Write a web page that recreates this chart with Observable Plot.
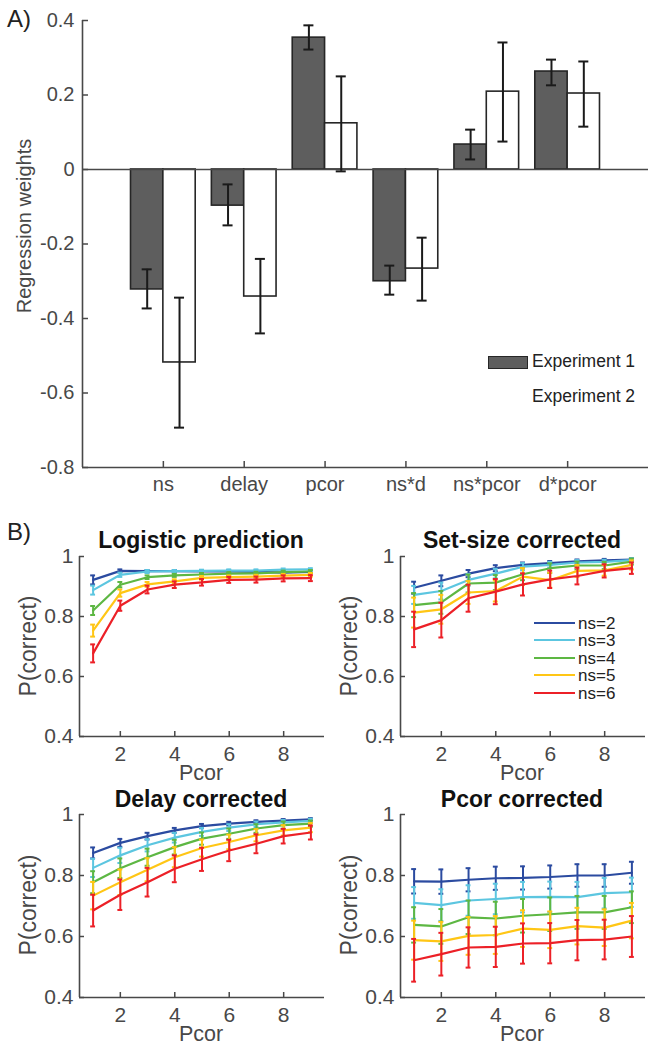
<!DOCTYPE html>
<html><head><meta charset="utf-8">
<script src="https://cdn.jsdelivr.net/npm/d3@7"></script>
<script src="https://cdn.jsdelivr.net/npm/@observablehq/plot@0.6"></script>
<style>
body{margin:0;background:#fff;}
#fig{position:relative;width:656px;height:1050px;overflow:hidden;background:#fff;font-family:"Liberation Sans",Arial,Helvetica,sans-serif;}
#fig svg{overflow:visible;}
.plot{position:absolute;}
.lab{position:absolute;white-space:nowrap;line-height:1;}
</style></head><body><div id="fig"></div>
<script>
// ---------- Panel A data ----------
const terms = ["ns", "delay", "pcor", "ns*d", "ns*pcor", "d*pcor"];
const exp1 = [-0.322, -0.097, 0.354, -0.300, 0.067, 0.263];
const exp1Lo = [-0.373, -0.150, 0.322, -0.336, 0.027, 0.226];
const exp1Hi = [-0.268, -0.040, 0.387, -0.258, 0.107, 0.295];
const exp2 = [-0.518, -0.341, 0.124, -0.266, 0.209, 0.204];
const exp2Lo = [-0.693, -0.440, -0.005, -0.352, 0.075, 0.115];
const exp2Hi = [-0.344, -0.240, 0.250, -0.183, 0.341, 0.290];
const yTicksA = [-0.8, -0.6, -0.4, -0.2, 0, 0.2, 0.4];

// ---------- Panel B data ----------
const pcorVals = [1, 2, 3, 4, 5, 6, 7, 8, 9];
const nsLabels = ["ns=2", "ns=3", "ns=4", "ns=5", "ns=6"];
const nsColors = ["#2b4ba0", "#5cc6e0", "#5db743", "#ffc615", "#ec2027"];
const yTicksB = [0.4, 0.6, 0.8, 1];
const xTicksB = [2, 4, 6, 8];

const logisticVals = [
  [0.922, 0.952, 0.951, 0.951, 0.950, 0.950, 0.949, 0.946, 0.949],
  [0.888, 0.939, 0.950, 0.951, 0.952, 0.953, 0.953, 0.956, 0.957],
  [0.820, 0.906, 0.931, 0.937, 0.940, 0.943, 0.944, 0.948, 0.950],
  [0.753, 0.878, 0.907, 0.917, 0.929, 0.931, 0.933, 0.936, 0.939],
  [0.677, 0.836, 0.890, 0.906, 0.914, 0.922, 0.923, 0.927, 0.928]
];
const logisticErr = [
  [0.015, 0.005, 0.004, 0.004, 0.004, 0.004, 0.004, 0.004, 0.004],
  [0.015, 0.007, 0.005, 0.004, 0.004, 0.004, 0.004, 0.004, 0.004],
  [0.015, 0.009, 0.006, 0.005, 0.005, 0.005, 0.005, 0.005, 0.005],
  [0.020, 0.012, 0.008, 0.007, 0.006, 0.006, 0.006, 0.006, 0.006],
  [0.030, 0.017, 0.013, 0.011, 0.011, 0.010, 0.010, 0.010, 0.010]
];
const setsizeVals = [
  [0.896, 0.919, 0.943, 0.961, 0.972, 0.978, 0.984, 0.987, 0.990],
  [0.872, 0.885, 0.922, 0.943, 0.966, 0.972, 0.980, 0.982, 0.988],
  [0.838, 0.847, 0.910, 0.913, 0.941, 0.961, 0.970, 0.970, 0.983],
  [0.813, 0.824, 0.880, 0.885, 0.933, 0.921, 0.952, 0.954, 0.972],
  [0.757, 0.788, 0.861, 0.883, 0.907, 0.924, 0.935, 0.952, 0.961]
];
const setsizeErr = [
  [0.020, 0.018, 0.012, 0.010, 0.008, 0.007, 0.006, 0.005, 0.004],
  [0.030, 0.028, 0.020, 0.016, 0.012, 0.010, 0.008, 0.007, 0.006],
  [0.040, 0.038, 0.030, 0.025, 0.020, 0.016, 0.013, 0.012, 0.010],
  [0.050, 0.048, 0.038, 0.035, 0.028, 0.025, 0.020, 0.018, 0.015],
  [0.059, 0.058, 0.045, 0.042, 0.037, 0.029, 0.028, 0.022, 0.019]
];
const delayVals = [
  [0.874, 0.907, 0.929, 0.948, 0.962, 0.970, 0.976, 0.980, 0.984],
  [0.825, 0.866, 0.899, 0.924, 0.943, 0.957, 0.968, 0.974, 0.979],
  [0.778, 0.824, 0.860, 0.893, 0.921, 0.937, 0.954, 0.965, 0.970],
  [0.734, 0.778, 0.819, 0.860, 0.890, 0.910, 0.932, 0.948, 0.957],
  [0.685, 0.737, 0.778, 0.822, 0.853, 0.882, 0.904, 0.929, 0.941]
];
const delayErr = [
  [0.018, 0.013, 0.011, 0.008, 0.007, 0.006, 0.005, 0.005, 0.004],
  [0.030, 0.025, 0.020, 0.016, 0.013, 0.011, 0.009, 0.008, 0.007],
  [0.036, 0.032, 0.028, 0.024, 0.020, 0.017, 0.014, 0.012, 0.010],
  [0.045, 0.042, 0.038, 0.033, 0.028, 0.024, 0.020, 0.017, 0.015],
  [0.052, 0.050, 0.047, 0.044, 0.038, 0.035, 0.031, 0.024, 0.023]
];
const pcorCorrVals = [
  [0.781, 0.780, 0.786, 0.791, 0.792, 0.795, 0.800, 0.800, 0.809],
  [0.710, 0.703, 0.718, 0.723, 0.729, 0.730, 0.729, 0.742, 0.745],
  [0.638, 0.633, 0.663, 0.659, 0.668, 0.673, 0.679, 0.679, 0.696],
  [0.588, 0.584, 0.602, 0.605, 0.626, 0.622, 0.634, 0.629, 0.652],
  [0.522, 0.542, 0.564, 0.566, 0.577, 0.578, 0.588, 0.590, 0.600]
];
const pcorCorrErr = [
  [0.040, 0.040, 0.038, 0.038, 0.038, 0.038, 0.037, 0.037, 0.036],
  [0.052, 0.052, 0.050, 0.050, 0.050, 0.050, 0.050, 0.050, 0.048],
  [0.058, 0.057, 0.055, 0.055, 0.055, 0.055, 0.054, 0.054, 0.052],
  [0.064, 0.064, 0.062, 0.062, 0.060, 0.060, 0.060, 0.060, 0.058],
  [0.070, 0.070, 0.066, 0.066, 0.066, 0.066, 0.066, 0.065, 0.067]
];

// ---------- styling ----------
const FONT = '"Liberation Sans", Arial, Helvetica, sans-serif';
const AX = "#484848";
const fig = document.getElementById("fig");

function place(node, left, top) {
  node.classList.add("plot");
  node.style.left = left + "px";
  node.style.top = top + "px";
  fig.appendChild(node);
}
function label(text, cx, cy, {size = 20, weight = "normal", rotate = 0, align = "center", color = AX} = {}) {
  const d = document.createElement("div");
  d.className = "lab";
  d.textContent = text;
  d.style.fontSize = size + "px";
  d.style.fontWeight = weight;
  d.style.color = color;
  d.style.left = cx + "px";
  d.style.top = cy + "px";
  if (rotate) {
    d.style.transformOrigin = "0 0";
    d.style.transform = `rotate(${rotate}deg) translate(-50%,-50%)`;
  } else {
    const tx = align === "center" ? "-50%" : "0";
    d.style.transform = `translate(${tx},-50%)`;
  }
  fig.appendChild(d);
  return d;
}

// ---------- Panel A ----------
const barRows = terms.flatMap((t, i) => [
  {term: t, exp: "Experiment 1", pos: i + 1, off: -0.2, v: exp1[i], lo: exp1Lo[i], hi: exp1Hi[i]},
  {term: t, exp: "Experiment 2", pos: i + 1, off: 0.2, v: exp2[i], lo: exp2Lo[i], hi: exp2Hi[i]}
]);
const BW = 0.4, CAP_A = 0.062;
const fmtA = d => d === 0 ? "0" : d.toFixed(1);

const pa = Plot.plot({
  width: 656, height: 500,
  marginLeft: 82, marginRight: 8, marginTop: 20, marginBottom: 33,
  style: {fontFamily: FONT, fontSize: "20px", color: AX, background: "transparent", overflow: "visible"},
  x: {type: "linear", domain: [0, 7]},
  y: {domain: [-0.8, 0.4]},
  marks: [
    Plot.rect(barRows, {
      x1: d => d.pos + d.off - BW / 2, x2: d => d.pos + d.off + BW / 2,
      y1: 0, y2: "v",
      fill: d => d.exp === "Experiment 1" ? "#5e5e5e" : "#ffffff",
      stroke: "#262626", strokeWidth: 1.6
    }),
    Plot.ruleY([0], {stroke: AX, strokeWidth: 1.5}),
    Plot.ruleX(barRows, {x: d => d.pos + d.off, y1: "lo", y2: "hi", stroke: "#1a1a1a", strokeWidth: 2}),
    Plot.ruleY(barRows, {y: "hi", x1: d => d.pos + d.off - CAP_A, x2: d => d.pos + d.off + CAP_A, stroke: "#1a1a1a", strokeWidth: 2}),
    Plot.ruleY(barRows, {y: "lo", x1: d => d.pos + d.off - CAP_A, x2: d => d.pos + d.off + CAP_A, stroke: "#1a1a1a", strokeWidth: 2}),
    Plot.ruleX([0], {stroke: AX, strokeWidth: 1.6}),
    Plot.ruleY([-0.8], {stroke: AX, strokeWidth: 1.6}),
    Plot.axisY({ticks: yTicksA, tickFormat: fmtA, tickSize: -6, tickPadding: 14, label: null, strokeWidth: 1.5}),
    Plot.axisX({ticks: [1, 2, 3, 4, 5, 6], tickFormat: d => terms[d - 1], tickSize: -6, tickPadding: 15, label: null, strokeWidth: 1.5})
  ]
});
place(pa, 0, 0);

label("A)", 7, 19, {size: 24, align: "left", color: "#222"});
label("Regression weights", 24, 226, {size: 20, rotate: -90});

// legend A
const sw = document.createElement("div");
sw.style.cssText = "position:absolute;left:488px;top:356px;width:40px;height:13px;background:#5e5e5e;border:1.5px solid #262626;box-sizing:border-box;";
fig.appendChild(sw);
label("Experiment 1", 532, 362, {size: 17.5, align: "left", color: "#222"});
label("Experiment 2", 532, 397, {size: 17.5, align: "left", color: "#222"});

// ---------- Panel B ----------
const CAP_B = 0.09;
const fmtB = d => d === 1 ? "1" : d.toFixed(1);

function linePanel(vals, errs, marginBottom) {
  const marks = [
    Plot.ruleX([0.5], {stroke: AX, strokeWidth: 1.6}),
    Plot.ruleY([0.4], {stroke: AX, strokeWidth: 1.6})
  ];
  nsLabels.forEach((ns, s) => {
    const rows = pcorVals.map((p, i) => ({ns, pcor: p, v: vals[s][i], lo: vals[s][i] - errs[s][i], hi: vals[s][i] + errs[s][i]}));
    const c = nsColors[s];
    marks.push(
      Plot.ruleX(rows, {x: "pcor", y1: "lo", y2: "hi", stroke: c, strokeWidth: 2}),
      Plot.ruleY(rows, {y: "hi", x1: d => d.pcor - CAP_B, x2: d => d.pcor + CAP_B, stroke: c, strokeWidth: 2}),
      Plot.ruleY(rows, {y: "lo", x1: d => d.pcor - CAP_B, x2: d => d.pcor + CAP_B, stroke: c, strokeWidth: 2}),
      Plot.lineY(rows, {x: "pcor", y: "v", stroke: c, strokeWidth: 2.2})
    );
  });
  marks.push(
    Plot.axisY({ticks: yTicksB, tickFormat: fmtB, tickSize: -5, tickPadding: 11, label: null, strokeWidth: 1.5}),
    Plot.axisX({ticks: xTicksB, tickSize: -5, tickPadding: 15, label: null, strokeWidth: 1.5})
  );
  return Plot.plot({
    width: 330, height: 262,
    marginLeft: 79, marginRight: 6, marginTop: 28, marginBottom,
    style: {fontFamily: FONT, fontSize: "21px", color: AX, background: "transparent", overflow: "visible"},
    x: {domain: [0.5, 9.5]},
    y: {domain: [0.4, 1]},
    marks
  });
}

place(linePanel(logisticVals, logisticErr, 54), 0, 528);
place(linePanel(setsizeVals, setsizeErr, 54), 321, 528);
place(linePanel(delayVals, delayErr, 51), 0, 786);
place(linePanel(pcorCorrVals, pcorCorrErr, 51), 321, 786);

label("B)", 7, 532, {size: 24, align: "left", color: "#222"});
const titles = [["Logistic prediction", 201, 540], ["Set-size corrected", 522, 540], ["Delay corrected", 201, 799], ["Pcor corrected", 522, 799]];
titles.forEach(([t, x, y]) => label(t, x, y, {size: 23, weight: "bold", color: "#111"}));
[[28, 646], [349, 646], [28, 905], [349, 905]].forEach(([x, y]) => label("P(correct)", x, y, {size: 23, rotate: -90}));
[[201, 774], [522, 774], [201, 1035], [522, 1035]].forEach(([x, y]) => label("Pcor", x, y, {size: 21.5}));

// legend B (inside Set-size corrected panel)
const legY = [623, 640, 658, 675, 693];
nsLabels.forEach((ns, s) => {
  const ln = document.createElement("div");
  ln.style.cssText = `position:absolute;left:534px;top:${legY[s] - 1}px;width:41px;height:2px;background:${nsColors[s]};`;
  fig.appendChild(ln);
  label(ns, 578, legY[s], {size: 17, align: "left", color: "#222"});
});
</script></body></html>
